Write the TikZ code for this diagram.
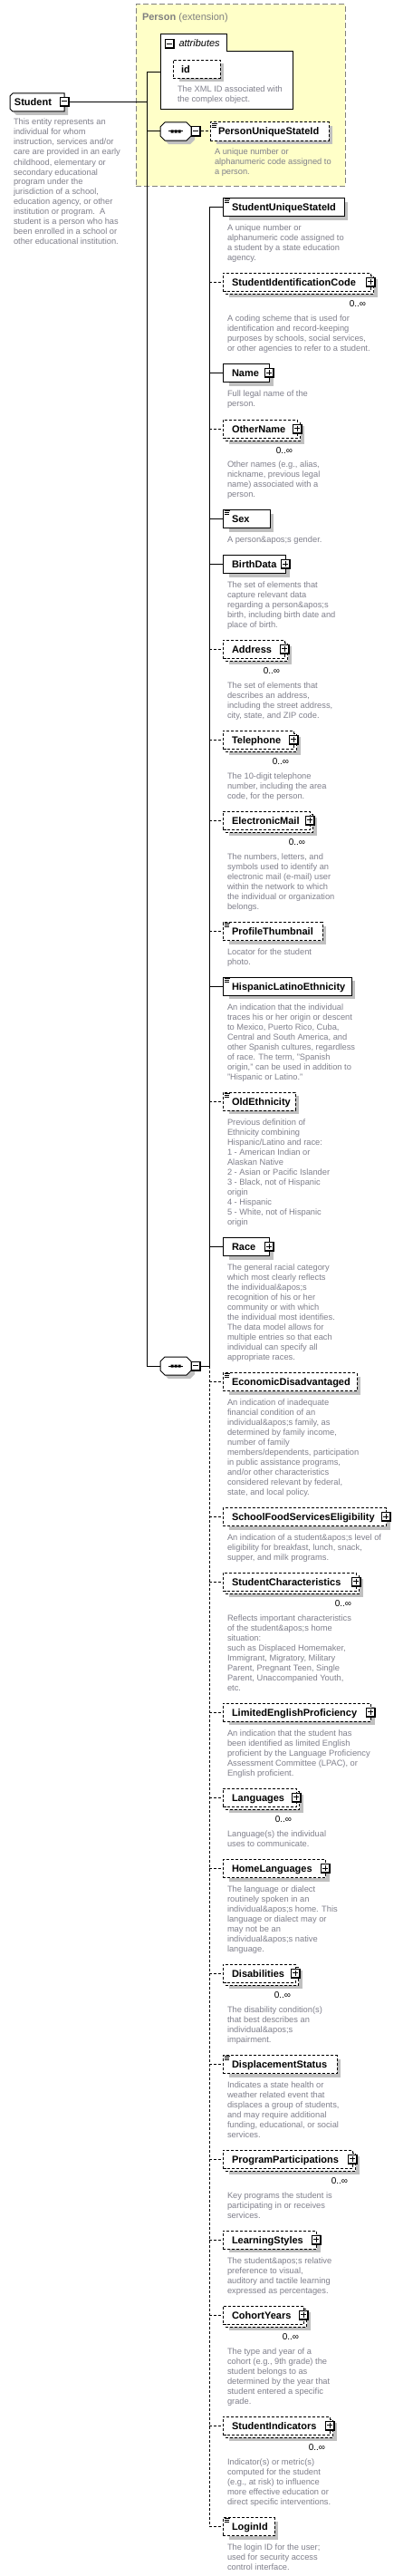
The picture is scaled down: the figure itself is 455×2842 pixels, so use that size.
\documentclass[tikz,border=0pt]{standalone}
\usepackage{fontspec}
\setmainfont{Liberation Sans}
\definecolor{shd}{RGB}{192,192,192}
\definecolor{dtx}{RGB}{128,128,140}
\definecolor{ylw}{RGB}{255,255,200}
\definecolor{gbd}{RGB}{128,128,128}
\newcommand\dl[1]{\vtop{\baselineskip=11pt\lineskiplimit=-20pt\lineskip=0pt\halign{##\hfil\cr#1\crcr}}}
\newcommand\infsym{\char"221E\relax}
\tikzset{
 dsh/.style={dash pattern=on 3pt off 2pt},
 nm/.style={font=\fontsize{11}{13}\selectfont\bfseries, inner sep=0, outer sep=0, anchor=base west},
 dsc/.style={font=\fontsize{9.3}{11}\selectfont, text=dtx, inner sep=0, outer sep=0, anchor=base west},
 occ/.style={font=\fontsize{10}{12}\selectfont, inner sep=0, outer sep=0, anchor=base east},
 ttl/.style={font=\fontsize{11}{13}\selectfont, text=gbd, inner sep=0, outer sep=0, anchor=base west},
 bx/.style={draw, fill=white, minimum height=20, inner sep=0, outer sep=0, anchor=west, line width=1pt},
 ghost/.style={inner sep=0, outer sep=0},
}
\newcommand\pmframe[2]{\fill (#1-5.5,#2-5.5) rectangle (#1+5.5,#2+5.5); \fill[white] (#1-4.5,#2-4.5) rectangle (#1+3.5,#2+3.5);}
\newcommand\minusb[2]{\pmframe{#1}{#2}\draw[line width=1pt] (#1-3.5,#2-0.5) -- (#1+2.5,#2-0.5);}
\newcommand\plusb[2]{\minusb{#1}{#2}\draw[line width=1pt] (#1-0.5,#2-3.5) -- (#1-0.5,#2+2.5);}
\newcommand\docicon[2]{\draw[line width=0.8pt] (#1+1.5,#2+1) -- (#1+7.5,#2+1) (#1+1.5,#2+3) -- (#1+6.5,#2+3) (#1+1.5,#2+5) -- (#1+6.5,#2+5);}
% #1 name, #2 right x, #3 centre y, #4 line style, #5 label
\newcommand\elsingle[5]{%
 \fill[shd] (253,#3-6) rectangle (#2+4,#3+14);
 \node[bx,#4,minimum width=#2-246] (#1) at (246,#3) {};
 \node[nm] (#1L) at (256,#3+4) {#5};}
% #1 name, #2 right x, #3 centre y, #4 label
\newcommand\elmulti[4]{%
 \fill[shd] (253,#3-3) rectangle (#2+7,#3+17);
 \draw[dsh,fill=white,line width=1pt] (249,#3-7) rectangle (#2+3,#3+13);
 \node[bx,dsh,minimum width=#2-246] (#1) at (246,#3) {};
 \node[nm] (#1L) at (256,#3+4) {#4};
 \node[occ] (#1O) at (#2-5.5,#3+27.5) {0..\infsym};
 \plusb{#2}{#3}}
\newcommand\eldesc[4]{\node[dsc] (#1D) at (#2,#3+3) {\dl{#4}};}
% #1 name, #2 cx, #3 cy
\newcommand\seqshape[3]{%
 \fill[shd] (#2-13,#3-1) -- (#2-8,#3-6) -- (#2+16,#3-6) -- (#2+21,#3-1) -- (#2+21,#3+9) -- (#2+16,#3+14) -- (#2-8,#3+14) -- (#2-13,#3+9) -- cycle;
 \draw[fill=white] (#2-17,#3-5) -- (#2-12,#3-10) -- (#2+12,#3-10) -- (#2+17,#3-5) -- (#2+17,#3+5) -- (#2+12,#3+10) -- (#2-12,#3+10) -- (#2-17,#3+5) -- cycle;
 \node[ghost,minimum width=34,minimum height=20] (#1) at (#2,#3) {};
 \draw (#2-8,#3) -- (#2+8,#3);
 \fill (#2-5.5,#3-1.5) rectangle (#2-2.5,#3+1.5) (#2-1.5,#3-1.5) rectangle (#2+1.5,#3+1.5) (#2+2.5,#3-1.5) rectangle (#2+5.5,#3+1.5);
 \minusb{#2+22.5}{#3}}
\begin{document}
\begin{tikzpicture}[x=1pt,y=-1pt,line width=1pt]
\fill[white] (0,0) rectangle (455,2842);
\useasboundingbox (0,0) rectangle (455,2842);

% ---------- Person extension ----------
\node[draw=gbd, fill=ylw, dash pattern=on 6pt off 3pt, minimum width=231, minimum height=200, anchor=north west, inner sep=0, outer sep=0] (person) at (150,5) {};
\node[ttl] (ptitle) at (157,23) {\textbf{Person} (extension)};

% junction coordinates
\coordinate (j0) at (162,112.5);
\coordinate (v1top) at (162,79.5);
\coordinate (v1s1) at (162,145);
\coordinate (v1bot) at (162,1507);
\coordinate (v2top) at (231,228.5);
\coordinate (v2mid) at (231,1507);
\coordinate (v2bot) at (231,2787.5);

% attributes
\draw[fill=white] (177,38) -- (250,38) -- (250,57) -- (323,57) -- (323,121) -- (177,121) -- cycle;
\node[ghost,minimum width=146,minimum height=83,anchor=north west] (attrbox) at (177,38) {};
\minusb{187.5}{49}
\node[font=\fontsize{11}{13}\selectfont\itshape, inner sep=0, anchor=base west] (attrL) at (197,52) {attributes};
\fill[shd] (198,70.5) rectangle (247,90.5);
\node[bx,dsh,minimum width=52] (id) at (191,76.5) {};
\node[nm] (idL) at (200,80.5) {id};
\eldesc{id}{196}{99}{The XML ID associated with\cr the complex object.}

% ---------- Student ----------
\fill[shd] (18,107) -- (75,107) -- (75,127) -- (18,127) -- (15,124) -- (15,110) -- cycle;
\draw[fill=white] (14,103) -- (71,103) -- (71,123) -- (14,123) -- (11,120) -- (11,106) -- cycle;
\node[nm] (student) at (16,116.5) {Student};
\minusb{71}{112.5}
\coordinate (stR) at (76.5,112.5);
\draw (stR) -- (j0);
\eldesc{student}{15}{135}{This entity represents an\cr individual for whom\cr instruction, services and/or\cr care are provided in an early\cr childhood, elementary or\cr secondary educational\cr program under the\cr jurisdiction of a school,\cr education agency, or other\cr institution or program.\ \ A\cr student is a person who has\cr been enrolled in a school or\cr other educational institution.}

% ---------- sequences ----------
\draw (v1top) -- (attrbox.west);
\draw (v1top) -- (v1bot) -- (177,1507);
\draw (v1s1) -- (177,145);
\seqshape{seqa}{194}{145}
\seqshape{seqb}{194}{1507}
\coordinate (s1R) at (222,145);
\coordinate (s2R) at (222,1507);

% PersonUniqueStateId
\fill[shd] (239,139) rectangle (367,159);
\node[bx,dsh,minimum width=131] (pusi) at (232,145) {};
\node[nm] (pusiL) at (241,149) {PersonUniqueStateId};
\docicon{232}{135}
\draw[dsh] (s1R) -- (pusi.west);
\eldesc{pusi}{237}{167}{A unique number or\cr alphanumeric code assigned to\cr a person.}

% main sequence lines
\draw (s2R) -- (v2mid);
\draw (v2top) -- (v2mid);
\draw[dsh] (v2mid) -- (v2bot);

% ---------- children ----------
\elsingle{susi}{380}{228.5}{solid}{StudentUniqueStateId}\docicon{246}{218.5}
\draw (v2top |- susi.west) -- (susi.west);
\eldesc{susi}{251}{251}{A unique number or\cr alphanumeric code assigned to\cr a student by a state education\cr agency.}

\elmulti{sic}{409.5}{311}{StudentIdentificationCode}
\draw[dsh] (v2top |- sic.west) -- (sic.west);
\eldesc{sic}{251}{351}{A coding scheme that is used for\cr identification and record-keeping\cr purposes by schools, social services,\cr or other agencies to refer to a student.}

\elsingle{name}{297.5}{411.5}{solid}{Name}\plusb{297.5}{411.5}
\draw (v2top |- name.west) -- (name.west);
\eldesc{name}{251}{434}{Full legal name of the\cr person.}

\elmulti{oname}{328.5}{473}{OtherName}
\draw[dsh] (v2top |- oname.west) -- (oname.west);
\eldesc{oname}{251}{512}{Other names (e.g., alias,\cr nickname, previous legal\cr name) associated with a\cr person.}

\elsingle{sex}{298}{572.5}{solid}{Sex}\docicon{246}{562.5}
\draw (v2top |- sex.west) -- (sex.west);
\eldesc{sex}{251}{595}{A person\&apos;s gender.}

\elsingle{birth}{315.5}{622.5}{solid}{BirthData}\plusb{315.5}{622.5}
\draw (v2top |- birth.west) -- (birth.west);
\eldesc{birth}{251}{645}{The set of elements that\cr capture relevant data\cr regarding a person\&apos;s\cr birth, including birth date and\cr place of birth.}

\elmulti{addr}{314.5}{716}{Address}
\draw[dsh] (v2top |- addr.west) -- (addr.west);
\eldesc{addr}{251}{756}{The set of elements that\cr describes an address,\cr including the street address,\cr city, state, and ZIP code.}

\elmulti{tel}{324.5}{816}{Telephone}
\draw[dsh] (v2top |- tel.west) -- (tel.west);
\eldesc{tel}{251}{856}{The 10-digit telephone\cr number, including the area\cr code, for the person.}

\elmulti{mail}{342.5}{905}{ElectronicMail}
\draw[dsh] (v2top |- mail.west) -- (mail.west);
\eldesc{mail}{251}{945}{The numbers, letters, and\cr symbols used to identify an\cr electronic mail (e-mail) user\cr within the network to which\cr the individual or organization\cr belongs.}

\elsingle{thumb}{356}{1027.5}{dsh}{ProfileThumbnail}\docicon{246}{1017.5}
\draw[dsh] (v2top |- thumb.west) -- (thumb.west);
\eldesc{thumb}{251}{1050}{Locator for the student\cr photo.}

\elsingle{hisp}{388}{1088}{solid}{HispanicLatinoEthnicity}\docicon{246}{1078}
\draw (v2top |- hisp.west) -- (hisp.west);
\eldesc{hisp}{251}{1111}{An indication that the individual\cr traces his or her origin or descent\cr to Mexico, Puerto Rico, Cuba,\cr Central and South America, and\cr other Spanish cultures, regardless\cr of race. The term, "Spanish\cr origin," can be used in addition to\cr "Hispanic or Latino."}

\elsingle{oldeth}{326}{1215}{dsh}{OldEthnicity}\docicon{246}{1205}
\draw[dsh] (v2top |- oldeth.west) -- (oldeth.west);
\eldesc{oldeth}{251}{1238}{Previous definition of\cr Ethnicity combining\cr Hispanic/Latino and race:\cr 1 - American Indian or\cr Alaskan Native\cr 2 - Asian or Pacific Islander\cr 3 - Black, not of Hispanic\cr origin\cr 4 - Hispanic\cr 5 - White, not of Hispanic\cr origin}

\elsingle{race}{297.5}{1375.5}{solid}{Race}\plusb{297.5}{1375.5}
\draw (v2top |- race.west) -- (race.west);
\eldesc{race}{251}{1398}{The general racial category\cr which most clearly reflects\cr the individual\&apos;s\cr recognition of his or her\cr community or with which\cr the individual most identifies.\cr The data model allows for\cr multiple entries so that each\cr individual can specify all\cr appropriate races.}

\elsingle{econ}{394}{1524.5}{dsh}{EconomicDisadvantaged}\docicon{246}{1514.5}
\draw[dsh] (v2top |- econ.west) -- (econ.west);
\eldesc{econ}{251}{1547}{An indication of inadequate\cr financial condition of an\cr individual\&apos;s family, as\cr determined by family income,\cr number of family\cr members/dependents, participation\cr in public assistance programs,\cr and/or other characteristics\cr considered relevant by federal,\cr state, and local policy.}

\elsingle{food}{426.5}{1673.5}{dsh}{SchoolFoodServicesEligibility}\plusb{426.5}{1673.5}
\draw[dsh] (v2top |- food.west) -- (food.west);
\eldesc{food}{251}{1696}{An indication of a student\&apos;s level of\cr eligibility for breakfast, lunch, snack,\cr supper, and milk programs.}

\elmulti{chars}{393.5}{1745}{StudentCharacteristics}
\draw[dsh] (v2top |- chars.west) -- (chars.west);
\eldesc{chars}{251}{1785}{Reflects important characteristics\cr of the student\&apos;s home\cr situation:\cr such as Displaced Homemaker,\cr Immigrant, Migratory, Military\cr Parent, Pregnant Teen, Single\cr Parent, Unaccompanied Youth,\cr etc.}

\elsingle{lep}{409.5}{1889}{dsh}{LimitedEnglishProficiency}\plusb{409.5}{1889}
\draw[dsh] (v2top |- lep.west) -- (lep.west);
\eldesc{lep}{251}{1912}{An indication that the student has\cr been identified as limited English\cr proficient by the Language Proficiency\cr Assessment Committee (LPAC), or\cr English proficient.}

\elmulti{lang}{327.5}{1983}{Languages}
\draw[dsh] (v2top |- lang.west) -- (lang.west);
\eldesc{lang}{251}{2023}{Language(s) the individual\cr uses to communicate.}

\elsingle{hlang}{359.5}{2061.5}{dsh}{HomeLanguages}\plusb{359.5}{2061.5}
\draw[dsh] (v2top |- hlang.west) -- (hlang.west);
\eldesc{hlang}{251}{2084}{The language or dialect\cr routinely spoken in an\cr individual\&apos;s home. This\cr language or dialect may or\cr may not be an\cr individual\&apos;s native\cr language.}

\elmulti{dis}{326.5}{2177}{Disabilities}
\draw[dsh] (v2top |- dis.west) -- (dis.west);
\eldesc{dis}{251}{2217}{The disability condition(s)\cr that best describes an\cr individual\&apos;s\cr impairment.}

\elsingle{disp}{372}{2277.5}{dsh}{DisplacementStatus}\docicon{246}{2267.5}
\draw[dsh] (v2top |- disp.west) -- (disp.west);
\eldesc{disp}{251}{2300}{Indicates a state health or\cr weather related event that\cr displaces a group of students,\cr and may require additional\cr funding, educational, or social\cr services.}

\elmulti{prog}{389.5}{2382}{ProgramParticipations}
\draw[dsh] (v2top |- prog.west) -- (prog.west);
\eldesc{prog}{251}{2422}{Key programs the student is\cr participating in or receives\cr services.}

\elsingle{learn}{349.5}{2471}{dsh}{LearningStyles}\plusb{349.5}{2471}
\draw[dsh] (v2top |- learn.west) -- (learn.west);
\eldesc{learn}{251}{2494}{The student\&apos;s relative\cr preference to visual,\cr auditory and tactile learning\cr expressed as percentages.}

\elmulti{cohort}{335.5}{2554}{CohortYears}
\draw[dsh] (v2top |- cohort.west) -- (cohort.west);
\eldesc{cohort}{251}{2594}{The type and year of a\cr cohort (e.g., 9th grade) the\cr student belongs to as\cr determined by the year that\cr student entered a specific\cr grade.}

\elmulti{ind}{364.5}{2676}{StudentIndicators}
\draw[dsh] (v2top |- ind.west) -- (ind.west);
\eldesc{ind}{251}{2716}{Indicator(s) or metric(s)\cr computed for the student\cr (e.g., at risk) to influence\cr more effective education or\cr direct specific interventions.}

\elsingle{login}{303}{2787.5}{dsh}{LoginId}\docicon{246}{2777.5}
\draw[dsh] (v2bot) -- (login.west);
\eldesc{login}{251}{2810}{The login ID for the user;\cr used for security access\cr control interface.}
\end{tikzpicture}
\end{document}
